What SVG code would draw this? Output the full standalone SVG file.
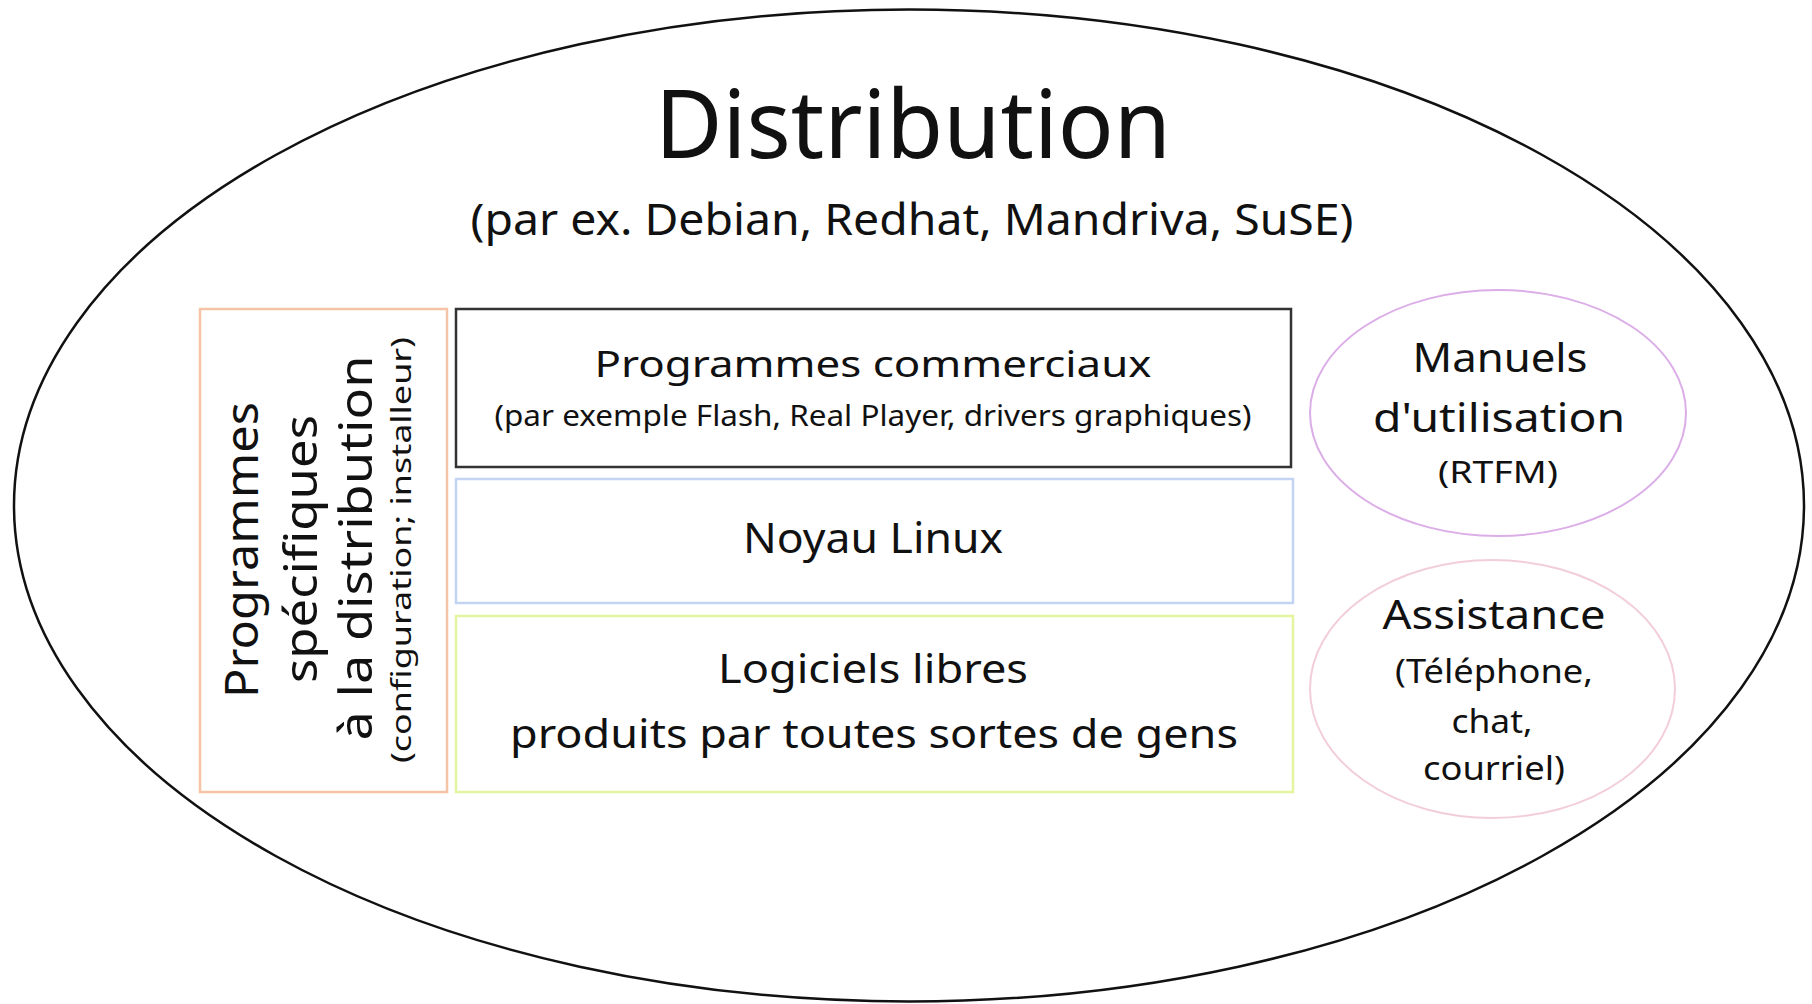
<svg xmlns="http://www.w3.org/2000/svg" width="1812" height="1004" viewBox="0 0 1812 1004">
<style>
text { font-family: "Noto Sans", "Open Sans", "Liberation Sans", sans-serif; fill: #111; text-anchor: middle; }
.box { fill: #fff; }
</style>
<rect width="1812" height="1004" fill="#fff"/>
<g id="distribution">
  <ellipse cx="909" cy="505.5" rx="895" ry="496" fill="#fff" stroke="#111" stroke-width="2.5"/>
  <text x="913" y="158" font-size="95" textLength="516" lengthAdjust="spacingAndGlyphs">Distribution</text>
  <text x="912" y="235" font-size="44" textLength="883" lengthAdjust="spacingAndGlyphs">(par ex. Debian, Redhat, Mandriva, SuSE)</text>
</g>
<g id="programmes-specifiques">
  <rect class="box" x="200" y="309" width="247" height="483" stroke="#f5c4a6" stroke-width="2.5"/>
  <text transform="translate(258,550) rotate(-90)" font-size="46" textLength="296" lengthAdjust="spacingAndGlyphs">Programmes</text>
  <text transform="translate(317,549) rotate(-90)" font-size="46" textLength="268" lengthAdjust="spacingAndGlyphs">spécifiques</text>
  <text transform="translate(372,548) rotate(-90)" font-size="46" textLength="385" lengthAdjust="spacingAndGlyphs">à la distribution</text>
  <text transform="translate(411,550) rotate(-90)" font-size="28" textLength="426" lengthAdjust="spacingAndGlyphs">(configuration; installeur)</text>
</g>
<g id="programmes-commerciaux">
  <rect class="box" x="456" y="309" width="835" height="158" stroke="#333" stroke-width="2.5"/>
  <text x="873" y="377" font-size="36" textLength="557" lengthAdjust="spacingAndGlyphs">Programmes commerciaux</text>
  <text x="873" y="426" font-size="29" textLength="757" lengthAdjust="spacingAndGlyphs">(par exemple Flash, Real Player, drivers graphiques)</text>
</g>
<g id="noyau-linux">
  <rect class="box" x="456" y="479" width="837" height="124" stroke="#c2d4f2" stroke-width="2.5"/>
  <text x="873" y="553" font-size="42" textLength="260" lengthAdjust="spacingAndGlyphs">Noyau Linux</text>
</g>
<g id="logiciels-libres">
  <rect class="box" x="456" y="616" width="837" height="176" stroke="#e4f5a0" stroke-width="2.5"/>
  <text x="873" y="683" font-size="40" textLength="310" lengthAdjust="spacingAndGlyphs">Logiciels libres</text>
  <text x="874" y="748" font-size="40" textLength="728" lengthAdjust="spacingAndGlyphs">produits par toutes sortes de gens</text>
</g>
<g id="manuels">
  <ellipse cx="1498" cy="413" rx="188" ry="123" fill="#fff" stroke="#dcaee8" stroke-width="2"/>
  <text x="1500" y="372" font-size="40" textLength="175" lengthAdjust="spacingAndGlyphs">Manuels</text>
  <text x="1499" y="432" font-size="40" textLength="252" lengthAdjust="spacingAndGlyphs">d'utilisation</text>
  <text x="1498" y="483" font-size="31" textLength="120" lengthAdjust="spacingAndGlyphs">(RTFM)</text>
</g>
<g id="assistance">
  <ellipse cx="1492.5" cy="689" rx="182.5" ry="129" fill="#fff" stroke="#f2cedb" stroke-width="2"/>
  <text x="1494" y="629" font-size="40" textLength="223" lengthAdjust="spacingAndGlyphs">Assistance</text>
  <text x="1494" y="683" font-size="33" textLength="198" lengthAdjust="spacingAndGlyphs">(Téléphone,</text>
  <text x="1492" y="733" font-size="33" textLength="81" lengthAdjust="spacingAndGlyphs">chat,</text>
  <text x="1494" y="780" font-size="33" textLength="142" lengthAdjust="spacingAndGlyphs">courriel)</text>
</g>
<g id="connectors"></g>
</svg>
